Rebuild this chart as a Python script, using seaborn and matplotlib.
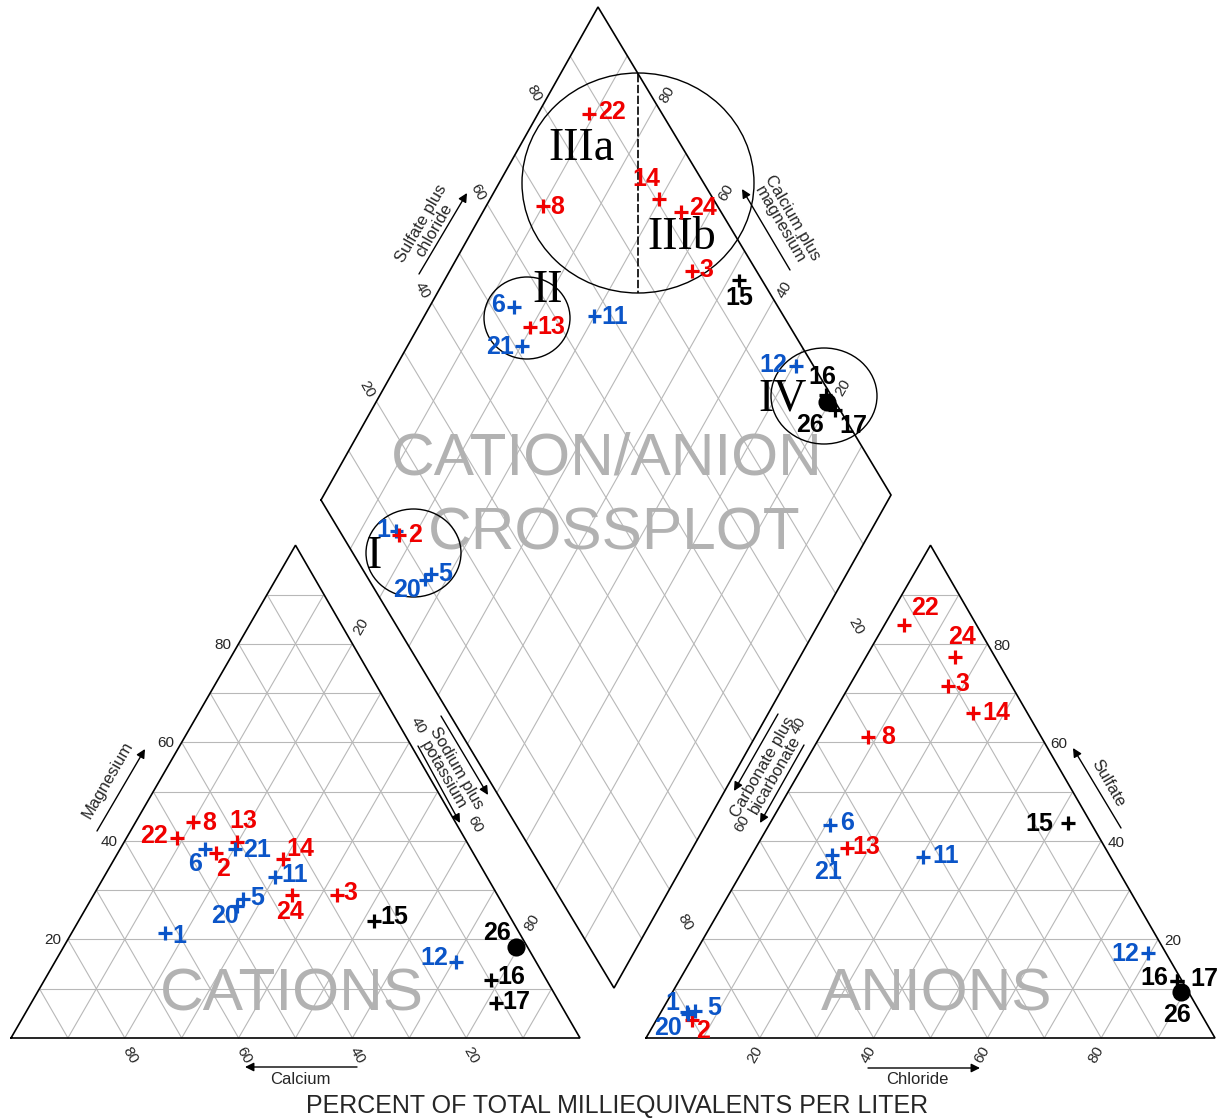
import numpy as np
import pandas as pd
import seaborn as sns
import matplotlib.pyplot as plt
from matplotlib.patches import Ellipse

sns.set_style("white")
plt.rcParams['font.family'] = ['Liberation Sans', 'DejaVu Sans']

# samples shown on the diagram and their colour group
sample_ids = [1, 2, 3, 5, 6, 8, 11, 12, 13, 14, 15, 16, 17, 20, 21, 22, 24, 26]
sample_group = ['blue', 'red', 'red', 'blue', 'blue', 'red', 'blue', 'blue', 'red',
                'red', 'black', 'black', 'black', 'blue', 'blue', 'red', 'red', 'black']

# percent of total milliequivalents per liter
magnesium = [21.3, 37.5, 29.0, 28.2, 38.4, 43.8, 32.7, 15.4, 39.8,
             36.3, 23.7, 11.8, 7.1, 26.8, 38.4, 40.6, 29.0, 18.5]
sodium_potassium = [16.4, 17.3, 42.8, 26.7, 14.9, 10.1, 30.0, 70.5, 19.8,
                    29.7, 52.0, 78.5, 81.7, 26.3, 20.2, 8.9, 34.9, 79.5]
sulfate = [5.3, 3.7, 71.4, 5.5, 43.2, 61.1, 36.7, 17.3, 38.6,
           66.0, 43.6, 11.6, 11.6, 4.9, 37.1, 83.8, 77.3, 9.3]
chloride = [4.6, 6.3, 17.4, 5.9, 10.7, 8.5, 30.3, 79.6, 16.0,
            24.5, 52.4, 87.5, 87.5, 5.0, 14.1, 3.4, 15.7, 89.3]
tick_values = [20, 40, 60, 80]

# layout of the three plotting fields (pixel space, y downwards)
SIDE = 569
H = np.sqrt(3) / 2
CAT_O = (11, 1038)
ANI_O = (646, 1038)
D_LEFT = np.array([321.0, 500.0])
D_TOP = np.array([598.0, 7.0])
D_BOTTOM = np.array([614.0, 988.0])


def tri(origin, r, t):
    # r = fraction toward right corner, t = fraction toward apex
    r = np.asarray(r, float)
    t = np.asarray(t, float)
    return origin[0] + SIDE * (r + 0.5 * t), origin[1] - SIDE * H * t


def dia(n, s):
    # n = sodium plus potassium, s = sulfate plus chloride
    n = np.asarray(n, float)
    s = np.asarray(s, float)
    x = D_LEFT[0] + n * (D_BOTTOM[0] - D_LEFT[0]) + s * (D_TOP[0] - D_LEFT[0])
    y = D_LEFT[1] + n * (D_BOTTOM[1] - D_LEFT[1]) + s * (D_TOP[1] - D_LEFT[1])
    return x, y


fig = plt.figure(figsize=(12.25, 11.2), dpi=100)
ax = fig.add_axes([0, 0, 1, 1])

GRID = dict(color='#b8b8b8', lw=0.8, zorder=1)
OUTLINE = dict(color='black', lw=1.2, zorder=3, solid_joinstyle='miter')
steps = np.arange(1, 10) / 10

# triangles
for origin in (CAT_O, ANI_O):
    for k in steps:
        for r0, t0, r1, t1 in [(0, k, 1 - k, k), (k, 0, k, 1 - k), (1 - k, 0, 0, 1 - k)]:
            xs, ys = tri(origin, [r0, r1], [t0, t1])
            ax.plot(xs, ys, **GRID)
    xs, ys = tri(origin, [0, 1, 0, 0], [0, 0, 1, 0])
    ax.plot(xs, ys, **OUTLINE)

# diamond
for k in steps:
    xs, ys = dia([k, k], [0, 1])
    ax.plot(xs, ys, **GRID)
    xs, ys = dia([0, 1], [k, k])
    ax.plot(xs, ys, **GRID)
xs, ys = dia([0, 1, 1, 0, 0], [0, 0, 1, 1, 0])
ax.plot(xs, ys, **OUTLINE)

# tick labels
tk = dict(fontsize=11, va='center', rotation_mode='anchor', zorder=4)
for v in tick_values:
    f = v / 100
    x, y = tri(CAT_O, 0, f)
    ax.text(x - 7, y + 1, str(v), ha='right', **tk)
    x, y = tri(CAT_O, 1 - f, 0)
    ax.text(x + 5, y + 17, str(v), ha='center', rotation=-60, **tk)
    x, y = tri(CAT_O, f, 1 - f)
    ax.text(x + 9, y - 17, str(v), ha='center', rotation=60 if v in (20, 80) else -60, **tk)
    x, y = tri(ANI_O, 0, 1 - f)
    ax.text(x - 18, y - 17, str(v), ha='center', rotation=-60 if v in (20, 80) else 60, **tk)
    x, y = tri(ANI_O, 1 - f, f)
    ax.text(x + 6, y + 2, str(v), ha='left', **tk)
    x, y = tri(ANI_O, f, 0)
    ax.text(x - 5, y + 17, str(v), ha='center', rotation=60, **tk)
    x, y = dia(0, f)
    ax.text(x - 9, y - 12, str(v), ha='center', rotation=-60, **tk)
    x, y = dia(1 - f, 1)
    ax.text(x + 11, y - 10, str(v), ha='center', rotation=60, **tk)

# axis titles with arrows
arrows = [((97, 831), (145, 749)), ((357, 1067), (245, 1067)), ((868, 1068), (980, 1068)),
          ((1121, 828), (1073, 748)), ((419, 274), (467, 193)), ((790, 270), (742, 189)),
          ((441, 716), (488, 795)), ((418, 746), (460, 823)), ((778, 714), (734, 791)),
          ((804, 745), (760, 823))]
for tail, head in arrows:
    ax.annotate('', xy=head, xytext=tail,
                arrowprops=dict(arrowstyle='-|>', color='black', lw=1.0,
                                mutation_scale=13, shrinkA=0, shrinkB=0))

titles = [("Magnesium", (108, 780), 60), ("Calcium", (300, 1079), 0),
          ("Chloride", (917, 1080), 0), ("Sulfate", (1108, 783), -60),
          ("Sulfate plus\nchloride", (428, 227), 60),
          ("Calcium plus\nmagnesium", (786, 221), -60),
          ("Sodium plus\npotassium", (450, 772), -60),
          ("Carbonate plus\nbicarbonate", (769, 771), 60)]
for txt, (x, y), rot in titles:
    ax.text(x, y, txt, fontsize=12, ha='center', va='center', rotation=rot,
            rotation_mode='anchor', linespacing=0.95, zorder=4)

ax.text(617, 1106, "PERCENT OF TOTAL MILLIEQUIVALENTS PER LITER",
        fontsize=18, ha='center', va='center')

# watermark field names
wm = dict(fontsize=43.5, color='#b2b2b2', ha='center', va='center', zorder=2)
ax.text(607, 459, "CATION/ANION", **wm)
ax.text(614, 534, "CROSSPLOT", **wm)
ax.text(292, 995, "CATIONS", **wm)
ax.text(937, 995, "ANIONS", **wm)

# water-type fields in the diamond
for (cx, cy), w, h in [((638, 183), 232, 220), ((527, 318), 86, 82),
                       ((824, 396), 106, 96), ((413.5, 553), 95, 88)]:
    ax.add_patch(Ellipse((cx, cy), w, h, fill=False, ec='black', lw=1.0, zorder=3))
ax.plot([638, 638], [73.6, 293], color='black', lw=1.2, ls=(0, (5, 1.5)), zorder=3)
for txt, (x, y) in [("IIIa", (581, 149)), ("IIIb", (682, 238)), ("II", (548, 291)),
                    ("IV", (783, 399)), ("I", (374, 557))]:
    ax.text(x, y, txt, fontsize=33, family='Liberation Serif', color='black',
            ha='center', va='center', zorder=4)

# sample points in the three fields
na = np.array(sodium_potassium) / 100
mg = np.array(magnesium) / 100
so4 = np.array(sulfate) / 100
cl = np.array(chloride) / 100
panels = {'cation': tri(CAT_O, na, mg), 'anion': tri(ANI_O, cl, so4), 'diamond': dia(na, so4 + cl)}
pts = pd.concat([pd.DataFrame({'sample': sample_ids, 'group': sample_group, 'panel': p,
                               'x': xy[0], 'y': xy[1]}) for p, xy in panels.items()],
                ignore_index=True)

palette = {'blue': '#0b55c8', 'red': '#f00000', 'black': 'black'}
crosses = pts[pts['sample'] != 26]
sns.scatterplot(data=crosses, x='x', y='y', hue='group', palette=palette, marker='+',
                s=100, linewidth=2.3, legend=False, ax=ax, zorder=5)
dots = pts[pts['sample'] == 26]
sns.scatterplot(data=dots, x='x', y='y', color='black', marker='o', s=170,
                linewidth=0, legend=False, ax=ax, zorder=5)

# label offsets (pixels, y downwards) and alignment
cat_labels = {22: (-9, -3, 'right'), 8: (9, 0, 'left'), 13: (6, -22, 'center'),
              6: (-10, 14, 'center'), 2: (7, 15, 'center'), 21: (8, 0, 'left'),
              14: (17, -11, 'center'), 11: (7, -3, 'left'), 5: (7, -2, 'left'),
              20: (-12, 9, 'center'), 24: (-2, 16, 'center'), 1: (7, 2, 'left'),
              3: (6, -3, 'left'), 15: (6, -5, 'left'), 12: (-8, -5, 'right'),
              26: (-19, -15, 'center'), 16: (6, -4, 'left'), 17: (6, -2, 'left')}
ani_labels = {22: (21, -18, 'center'), 24: (7, -21, 'center'), 3: (7, -3, 'left'),
              14: (9, -1, 'left'), 8: (13, -1, 'left'), 6: (10, -3, 'left'),
              13: (6, -2, 'left'), 21: (-4, 16, 'center'), 11: (10, -2, 'left'),
              15: (-15, 0, 'right'), 12: (-9, 0, 'right'), 16: (-9, -4, 'right'),
              17: (13, -3, 'left'), 26: (-4, 22, 'center'), 1: (-15, -10, 'center'),
              5: (12, -4, 'left'), 20: (-20, 13, 'center'), 2: (11, 10, 'center')}
dia_labels = {22: (10, -3, 'left'), 8: (7, 0, 'left'), 14: (-12, -21, 'center'),
              24: (8, -5, 'left'), 3: (7, -2, 'left'), 15: (0, 17, 'center'),
              6: (-9, -3, 'right'), 21: (-8, 0, 'right'), 13: (7, -1, 'left'),
              11: (7, 0, 'left'), 12: (-9, -2, 'right'), 16: (-3, -19, 'center'),
              26: (-17, 22, 'center'), 17: (18, 15, 'center'), 1: (-6, -2, 'right'),
              2: (9, -1, 'left'), 5: (7, -1, 'left'), 20: (-18, 9, 'center')}
offsets = {'cation': cat_labels, 'anion': ani_labels, 'diamond': dia_labels}
for _, row in pts.iterrows():
    ddx, ddy, ha = offsets[row['panel']][row['sample']]
    ax.text(row['x'] + ddx, row['y'] + ddy + 1, str(row['sample']), color=palette[row['group']],
            fontsize=18, fontweight='bold', ha=ha, va='center', zorder=6)

ax.set_xlim(0, 1225)
ax.set_ylim(1120, 0)
ax.axis('off')

fig.savefig('out.png', dpi=100)
